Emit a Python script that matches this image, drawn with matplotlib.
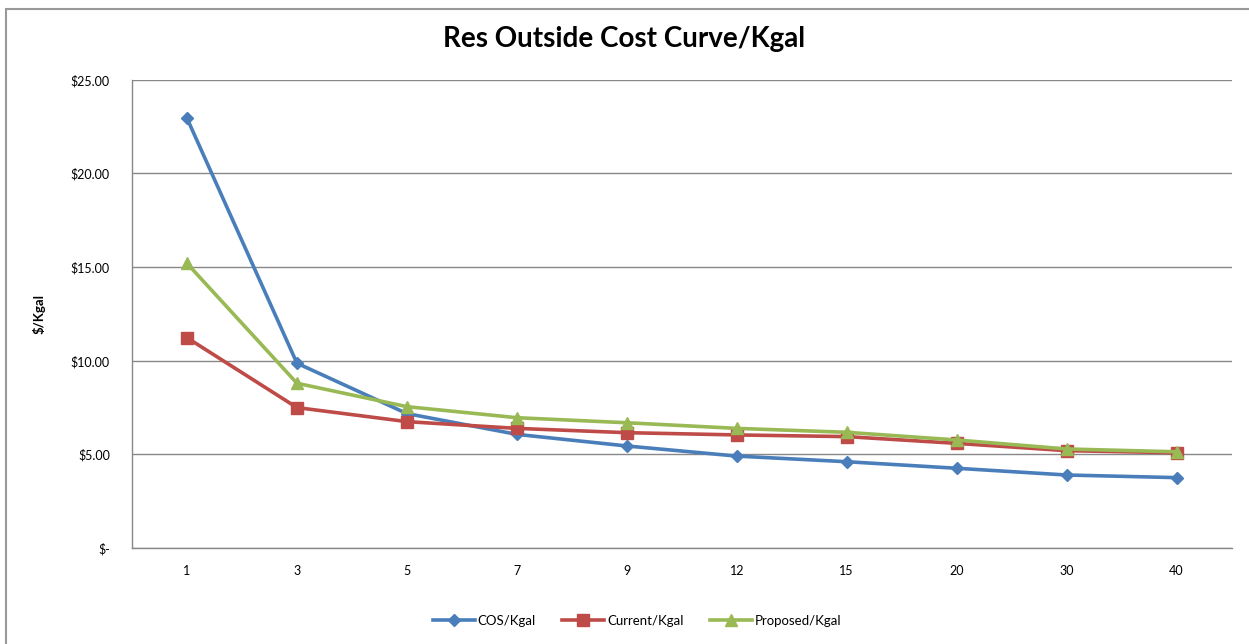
import matplotlib.pyplot as plt
from matplotlib.patches import Rectangle

plt.rcParams['font.family'] = ['Lato', 'DejaVu Sans']

categories = ['1', '3', '5', '7', '9', '12', '15', '20', '30', '40']
cos_kgal = [22.95, 9.87, 7.18, 6.07, 5.45, 4.91, 4.61, 4.26, 3.90, 3.76]
current_kgal = [11.23, 7.50, 6.75, 6.39, 6.16, 6.04, 5.95, 5.59, 5.20, 5.09]
proposed_kgal = [15.20, 8.80, 7.55, 6.96, 6.69, 6.39, 6.18, 5.77, 5.29, 5.14]

yticks = [0, 5, 10, 15, 20, 25]
ytick_labels = ['$-', '$5.00', '$10.00', '$15.00', '$20.00', '$25.00']

fig = plt.figure(figsize=(12.49, 6.44), dpi=100)
ax = fig.add_axes([0.1057, 0.149, 0.8803, 0.727])

# chart border (only top and left edges fall inside the image)
fig.patches.append(Rectangle((0.0052, -0.1), 1.2, 1.0868,
                             transform=fig.transFigure, fill=False,
                             edgecolor='#999999', linewidth=1.5))

x = range(len(categories))
ax.plot(x, cos_kgal, color='#4A7EBB', linewidth=2.6, marker='D', markersize=6.5,
        label='COS/Kgal')
ax.plot(x, current_kgal, color='#BE4B48', linewidth=2.6, marker='s', markersize=8,
        label='Current/Kgal')
ax.plot(x, proposed_kgal, color='#98B954', linewidth=2.6, marker='^', markersize=8.5,
        label='Proposed/Kgal')

ax.set_xlim(-0.5, len(categories) - 0.5)
ax.set_ylim(0, 25)
ax.set_xticks(list(x))
ax.set_xticklabels(categories, fontsize=9)
ax.set_yticks(yticks)
ax.set_yticklabels(ytick_labels, fontsize=9)
ax.tick_params(axis='x', length=0, pad=12)
ax.tick_params(axis='y', length=0, pad=16)
ax.yaxis.grid(True, color='#888888', linewidth=1)
ax.set_axisbelow(True)
for s in ['top', 'right']:
    ax.spines[s].set_visible(False)
for s in ['left', 'bottom']:
    ax.spines[s].set_color('#888888')
    ax.spines[s].set_linewidth(1)

ax.set_ylabel('$/Kgal', fontsize=9.5, fontweight='bold', labelpad=18)
fig.suptitle('Res Outside Cost Curve/Kgal', fontsize=20, fontweight='bold', y=0.96)

fig.legend(loc='lower center', bbox_to_anchor=(0.51, 0.008), ncol=3, frameon=False,
           fontsize=9.5, handlelength=3.2, handletextpad=0.2, columnspacing=2)

fig.savefig('out.png', dpi=100)
